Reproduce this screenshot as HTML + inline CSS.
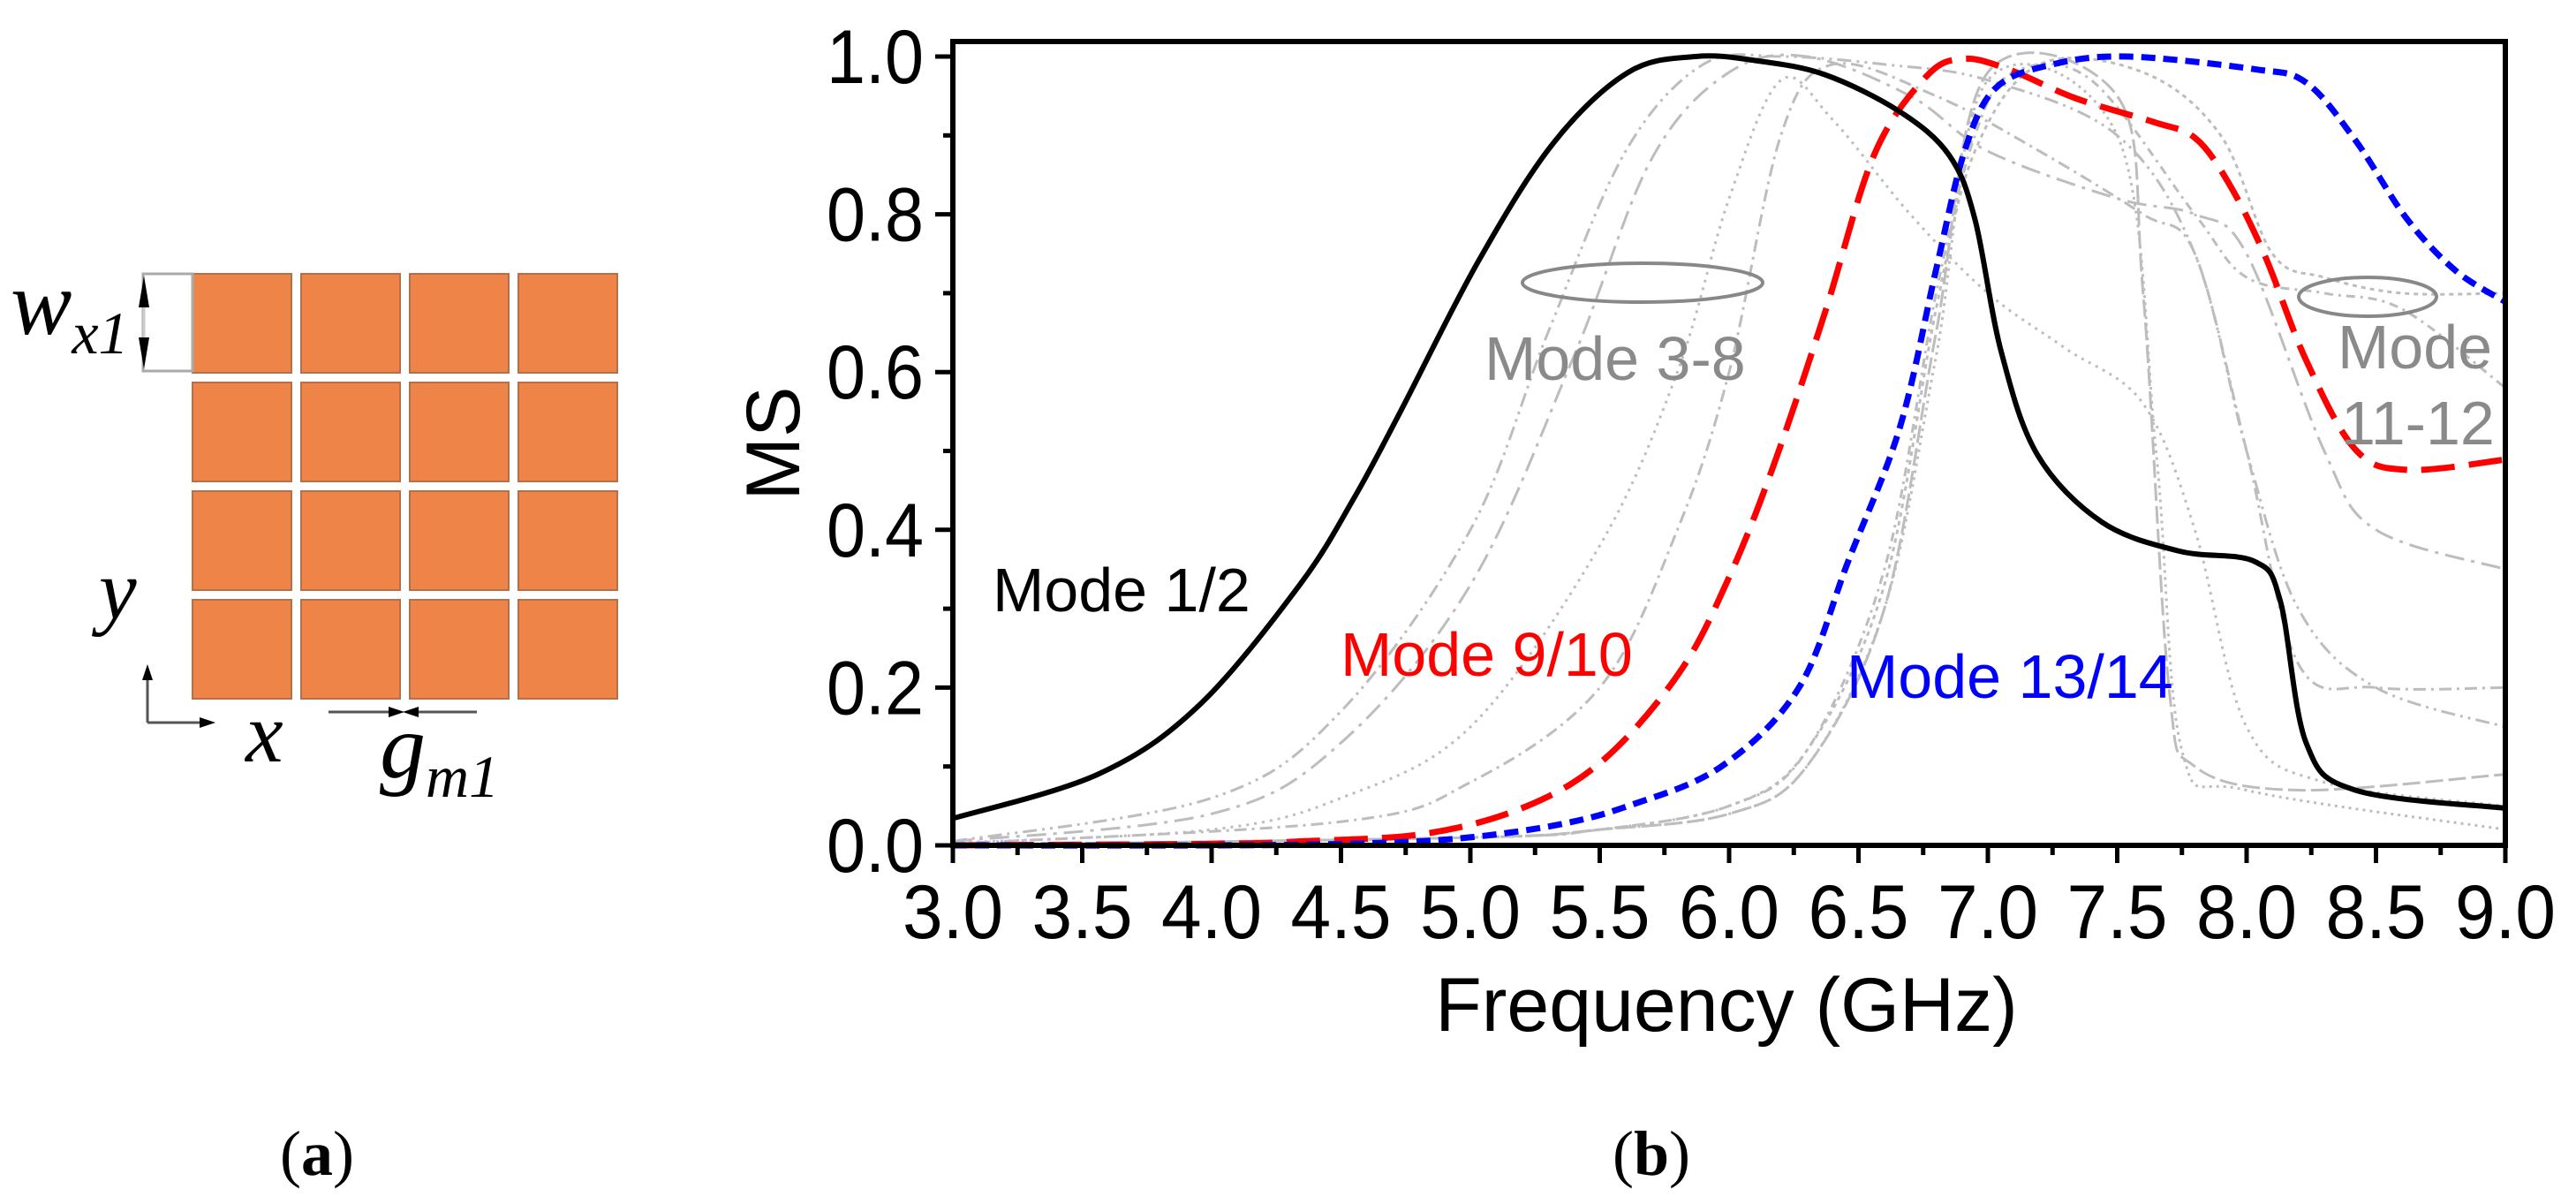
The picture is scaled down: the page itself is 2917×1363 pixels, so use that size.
<!DOCTYPE html>
<html><head><meta charset="utf-8"><style>
html,body{margin:0;padding:0;background:#fff;}
svg{display:block;}
text{font-family:"Liberation Sans",Arial,sans-serif;}
.serif{font-family:"Liberation Serif","Times New Roman",serif;}
</style></head>
<body>
<svg id="fig" width="2917" height="1363" viewBox="0 0 2917 1363" xmlns="http://www.w3.org/2000/svg">
<g id="panelA"></g>
<g>
  <rect x="162" y="310" width="56" height="110" fill="#fff" stroke="#aaa" stroke-width="3"/>
  <line x1="163" y1="325" x2="163" y2="405" stroke="#ccc" stroke-width="3"/>
  <polygon points="163,312 157,348 169,348" fill="#000"/>
  <polygon points="163,418 157,382 169,382" fill="#000"/>
  <text class="serif" x="12" y="378" font-size="104" font-style="italic">w<tspan font-size="68" dy="22">x1</tspan></text>
  <text class="serif" x="112" y="700" font-size="96" font-style="italic">y</text>
  <line x1="167" y1="818" x2="167" y2="762" stroke="#555" stroke-width="3"/>
  <polygon points="167,752 161,770 173,770" fill="#000"/>
  <line x1="167" y1="818" x2="232" y2="818" stroke="#555" stroke-width="3"/>
  <polygon points="244,818 226,812 226,824" fill="#000"/>
  <text class="serif" x="278" y="862" font-size="96" font-style="italic">x</text>
  <line x1="372" y1="806" x2="450" y2="806" stroke="#555" stroke-width="3"/>
  <polygon points="458,806 440,800 440,812" fill="#000"/>
  <line x1="463" y1="806" x2="540" y2="806" stroke="#555" stroke-width="3"/>
  <polygon points="456,806 474,800 474,812" fill="#000"/>
  <text class="serif" x="430" y="880" font-size="104" font-style="italic">g<tspan font-size="68" dy="22">m1</tspan></text>
  <text class="serif" x="359" y="1330" font-size="72" text-anchor="middle">(<tspan font-weight="bold">a</tspan>)</text>
  <text class="serif" x="1870" y="1330" font-size="72" text-anchor="middle">(<tspan font-weight="bold">b</tspan>)</text>
</g>
<g id="chart"></g>
</svg>
<script>
// ---- chart data ----
const xTicks = [3.0,3.5,4.0,4.5,5.0,5.5,6.0,6.5,7.0,7.5,8.0,8.5,9.0];
const yTicks = [0.0,0.2,0.4,0.6,0.8,1.0];
const mode12F = [3.0,3.56,3.95,4.34,4.55,4.73,5.03,5.32,5.61,5.87,6.1,6.37,6.66,6.85,6.95,7.05,7.19,7.44,7.74,8.03,8.13,8.23,8.42,9.0];
const mode12V = [0.034,0.09,0.177,0.33,0.44,0.55,0.74,0.89,0.98,1.0,0.995,0.977,0.93,0.875,0.794,0.628,0.496,0.41,0.373,0.36,0.31,0.13,0.07,0.047];
const mode910F = [3.0,4.0,4.34,4.83,5.22,5.52,5.81,6.0,6.17,6.37,6.56,6.76,6.9,7.07,7.34,7.64,7.8,7.93,8.07,8.23,8.42,8.62,9.0];
const mode910V = [0.0,0.002,0.005,0.015,0.05,0.11,0.22,0.34,0.48,0.675,0.875,0.974,0.997,0.985,0.947,0.917,0.897,0.84,0.748,0.615,0.502,0.476,0.489];
const mode1314F = [3.0,4.0,4.52,4.93,5.32,5.61,5.97,6.27,6.46,6.66,6.8,6.91,7.03,7.25,7.54,8.03,8.23,8.42,8.62,8.81,9.0];
const mode1314V = [0.0,0.0,0.002,0.008,0.025,0.05,0.1,0.2,0.36,0.53,0.73,0.88,0.96,0.99,1.0,0.984,0.967,0.894,0.794,0.728,0.689];
const grayAF = [3.0,4.0,4.5,5.0,5.3,5.6,5.9,6.2,6.6,7.0,7.5,7.8,8.0,8.2,8.5,9.0];
const grayAV = [0.005,0.06,0.17,0.4,0.65,0.88,0.99,1.0,0.99,0.97,0.9,0.75,0.5,0.3,0.2,0.15];
const grayBF = [3.0,4.0,4.5,5.0,5.4,5.7,6.0,6.3,6.7,7.0,7.5,7.8,8.0,8.3,8.5,9.0];
const grayBV = [0.005,0.04,0.13,0.33,0.62,0.87,0.98,1.0,0.95,0.88,0.82,0.8,0.75,0.5,0.4,0.35];
const grayCF = [3.0,4.0,4.5,5.0,5.5,5.8,6.0,6.2,6.4,6.7,7.0,7.3,7.6,7.8,8.0,8.3,9.0];
const grayCV = [0.003,0.02,0.06,0.15,0.38,0.6,0.82,0.97,0.92,0.8,0.7,0.63,0.56,0.4,0.15,0.08,0.05];
const grayDF = [3.0,4.5,5.0,5.5,5.8,6.0,6.2,6.4,6.8,7.2,7.6,7.8,8.0,8.2,8.5,9.0];
const grayDV = [0.002,0.03,0.08,0.2,0.4,0.6,0.9,0.99,0.95,0.88,0.8,0.75,0.5,0.23,0.2,0.2];
const grayEF = [3.0,5.0,5.5,6.0,6.3,6.6,6.8,6.95,7.1,7.4,7.8,8.0,8.3,8.6,9.0];
const grayEV = [0.0,0.01,0.02,0.05,0.12,0.35,0.7,0.9,0.98,0.97,0.8,0.72,0.7,0.68,0.58];
const grayFF = [3.0,5.0,5.5,6.0,6.3,6.6,6.8,6.95,7.2,7.6,7.9,8.1,8.3,8.6,9.0];
const grayFV = [0.0,0.01,0.02,0.05,0.12,0.33,0.68,0.88,0.99,0.98,0.9,0.75,0.72,0.7,0.7];
const grayGF = [3.0,5.0,5.5,6.0,6.3,6.6,6.8,7.0,7.5,7.6,7.7,7.8,8.2,9.0];
const grayGV = [0.0,0.01,0.02,0.04,0.1,0.3,0.65,0.98,0.95,0.7,0.2,0.1,0.07,0.09];
const grayHF = [3.0,5.0,5.5,6.0,6.3,6.6,6.8,7.0,7.5,7.65,7.75,8.0,9.0];
const grayHV = [0.0,0.01,0.02,0.04,0.1,0.3,0.62,0.97,0.9,0.5,0.12,0.07,0.02];

const NS = "http://www.w3.org/2000/svg";
const X0 = 1079, X1 = 2837, Y0 = 957, Y1 = 64;
const sx = f => X0 + (f - 3) / 6 * (X1 - X0);
const sy = v => Y0 - v * (Y0 - Y1);
const chart = document.getElementById('chart');
function mk(tag, attrs, parent) {
  const e = document.createElementNS(NS, tag);
  for (const k in attrs) e.setAttribute(k, attrs[k]);
  (parent || chart).appendChild(e);
  return e;
}
function pathD(F, V) {
  const p = F.map((f, i) => [sx(f), sy(V[i])]);
  let d = 'M' + p[0][0].toFixed(1) + ',' + p[0][1].toFixed(1);
  for (let i = 0; i < p.length - 1; i++) {
    const a = p[i - 1] || p[i], b = p[i], c = p[i + 1], e = p[i + 2] || c;
    const c1 = [b[0] + (c[0] - a[0]) / 6, b[1] + (c[1] - a[1]) / 6];
    const c2 = [c[0] - (e[0] - b[0]) / 6, c[1] - (e[1] - b[1]) / 6];
    d += ' C' + c1[0].toFixed(1) + ',' + c1[1].toFixed(1) + ' ' + c2[0].toFixed(1) + ',' + c2[1].toFixed(1) + ' ' + c[0].toFixed(1) + ',' + c[1].toFixed(1);
  }
  return d;
}

// panel a squares
const pa = document.getElementById('panelA');
for (let r = 0; r < 4; r++) for (let c = 0; c < 4; c++) {
  const sq = mk('rect', {x: 218 + c * 123, y: 310 + r * 123, width: 112, height: 112, fill: '#ee8447', stroke: '#b5704a', 'stroke-width': 2}, pa);
  
  
}

// gray curves
const grays = [[grayAF, grayAV, '16 6 3 6 3 6'], [grayBF, grayBV, '22 8 4 8'], [grayCF, grayCV, '3 6'], [grayDF, grayDV, '14 6 3 6'],
  [grayEF, grayEV, '10 6 3 6'], [grayFF, grayFV, '5 5'], [grayGF, grayGV, '20 6'], [grayHF, grayHV, '3 5']];
grays.forEach((g, i) => {
  const p = mk('path', {d: pathD(g[0], g[1]), fill: 'none', stroke: '#bdbdbd', 'stroke-width': 3, 'stroke-dasharray': g[2]});
  
  
});

// main series
const s1 = mk('path', {d: pathD(mode910F, mode910V), fill: 'none', stroke: '#ff0000', 'stroke-width': 7, 'stroke-dasharray': '38 16'});


const s2 = mk('path', {d: pathD(mode1314F, mode1314V), fill: 'none', stroke: '#0000ff', 'stroke-width': 7, 'stroke-dasharray': '16 9'});


const s3 = mk('path', {d: pathD(mode12F, mode12V), fill: 'none', stroke: '#000', 'stroke-width': 6});



// frame
const fr = mk('rect', {x: X0, y: 47, width: X1 - X0, height: Y0 - 47, fill: 'none', stroke: '#000', 'stroke-width': 6});



// x ticks
for (let i = 0; i < xTicks.length; i++) {
  const f = xTicks[i];
  const t = mk('line', {x1: sx(f), y1: Y0, x2: sx(f), y2: Y0 + 20, stroke: '#000', 'stroke-width': 5});
  
  
  if (i < xTicks.length - 1) {
    const m = mk('line', {x1: sx(f + 0.25), y1: Y0, x2: sx(f + 0.25), y2: Y0 + 11, stroke: '#000', 'stroke-width': 5});
    
    
  }
  const l = mk('text', {x: sx(f), y: 1062, 'font-size': 86, 'text-anchor': 'middle', textLength: 114, lengthAdjust: 'spacingAndGlyphs'});
  l.textContent = f.toFixed(1);
  
  
}
// y ticks
for (let i = 0; i < yTicks.length; i++) {
  const v = yTicks[i];
  const t = mk('line', {x1: X0 - 20, y1: sy(v), x2: X0, y2: sy(v), stroke: '#000', 'stroke-width': 5});
  
  
  if (i < yTicks.length - 1) {
    const m = mk('line', {x1: X0 - 11, y1: sy(v + 0.1), x2: X0, y2: sy(v + 0.1), stroke: '#000', 'stroke-width': 5});
    
    
  }
  const l = mk('text', {x: 1046, y: sy(v) + 30, 'font-size': 86, 'text-anchor': 'end', textLength: 110, lengthAdjust: 'spacingAndGlyphs'});
  l.textContent = v.toFixed(1);
  
  
}
const xt = mk('text', {x: 1955, y: 1167, 'font-size': 86, 'text-anchor': 'middle'});
xt.textContent = 'Frequency (GHz)';


const yt = mk('text', {x: 0, y: 0, 'font-size': 86, 'text-anchor': 'middle', transform: 'translate(905,502) rotate(-90)'});
yt.textContent = 'MS';



// annotations
const labels = [['Mode 1/2', 1124, 692, '#000', 'label-mode-1-2'], ['Mode 9/10', 1518, 765, '#ff0000', 'label-mode-9-10'],
  ['Mode 3-8', 1681, 430, '#8a8a8a', 'label-mode-3-8'], ['Mode 13/14', 2091, 790, '#0000ff', 'label-mode-13-14'],
  ['Mode', 2647, 417, '#8a8a8a', 'label-mode-11-12-line1'], ['11-12', 2651, 503, '#8a8a8a', 'label-mode-11-12-line2']];
labels.forEach(L => {
  const t = mk('text', {x: L[1], y: L[2], 'font-size': 70, fill: L[3]});
  t.textContent = L[0];
  
  
});
const e1 = mk('ellipse', {cx: 1860, cy: 320, rx: 136, ry: 22, fill: 'none', stroke: '#888', 'stroke-width': 4});


const e2 = mk('ellipse', {cx: 2681, cy: 336, rx: 78, ry: 22, fill: 'none', stroke: '#888', 'stroke-width': 4});


</script>
</body></html>
